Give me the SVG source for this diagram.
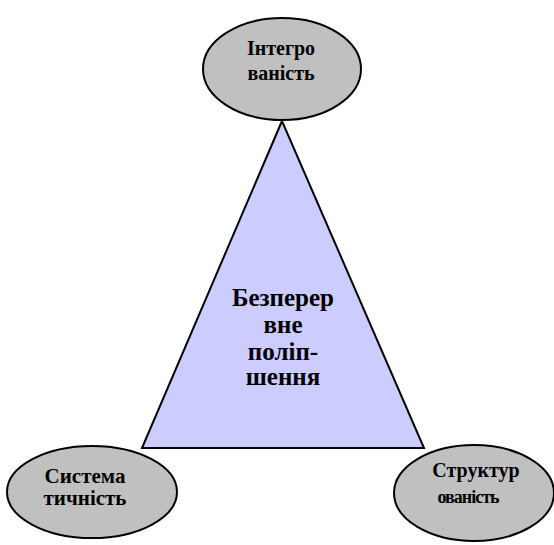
<svg xmlns="http://www.w3.org/2000/svg" width="554" height="545" viewBox="0 0 554 545">
<style>
.node{fill:#c0c0c0;stroke:#000;stroke-width:2}
.tri{fill:#ccccff;stroke:#000;stroke-width:2}
.t{font-family:"Liberation Serif",serif;font-weight:bold;fill:#000;text-anchor:middle}
.s{font-size:20px}
.c{font-size:25px}
</style>
<rect width="554" height="545" fill="#fff"/>
<g id="center">
<polygon class="tri" points="282,121 142,448 424,448"/>
<text class="t c" x="283" y="306">Безперер</text>
<text class="t c" x="283" y="333">вне</text>
<text class="t c" x="283" y="360">поліп-</text>
<text class="t c" x="283" y="385">шення</text>
</g>
<g id="integrovanist">
<ellipse class="node" cx="282" cy="69" rx="79" ry="51"/>
<text class="t s" x="281" y="55">Інтегро</text>
<text class="t s" x="281" y="80">ваність</text>
</g>
<g id="systematychnist">
<ellipse class="node" cx="92" cy="492" rx="85" ry="46"/>
<text class="t s" x="85" y="483" style="font-size:21px">Система</text>
<text class="t s" x="85" y="505" style="font-size:21px">тичність</text>
</g>
<g id="strukturovanist">
<ellipse class="node" cx="474" cy="493" rx="80" ry="48"/>
<text class="t s" x="476" y="477">Структур</text>
<text class="t s" x="468" y="503" style="font-size:18px;letter-spacing:-1px">ованість</text>
</g>
<g id="connectors"/>
</svg>
